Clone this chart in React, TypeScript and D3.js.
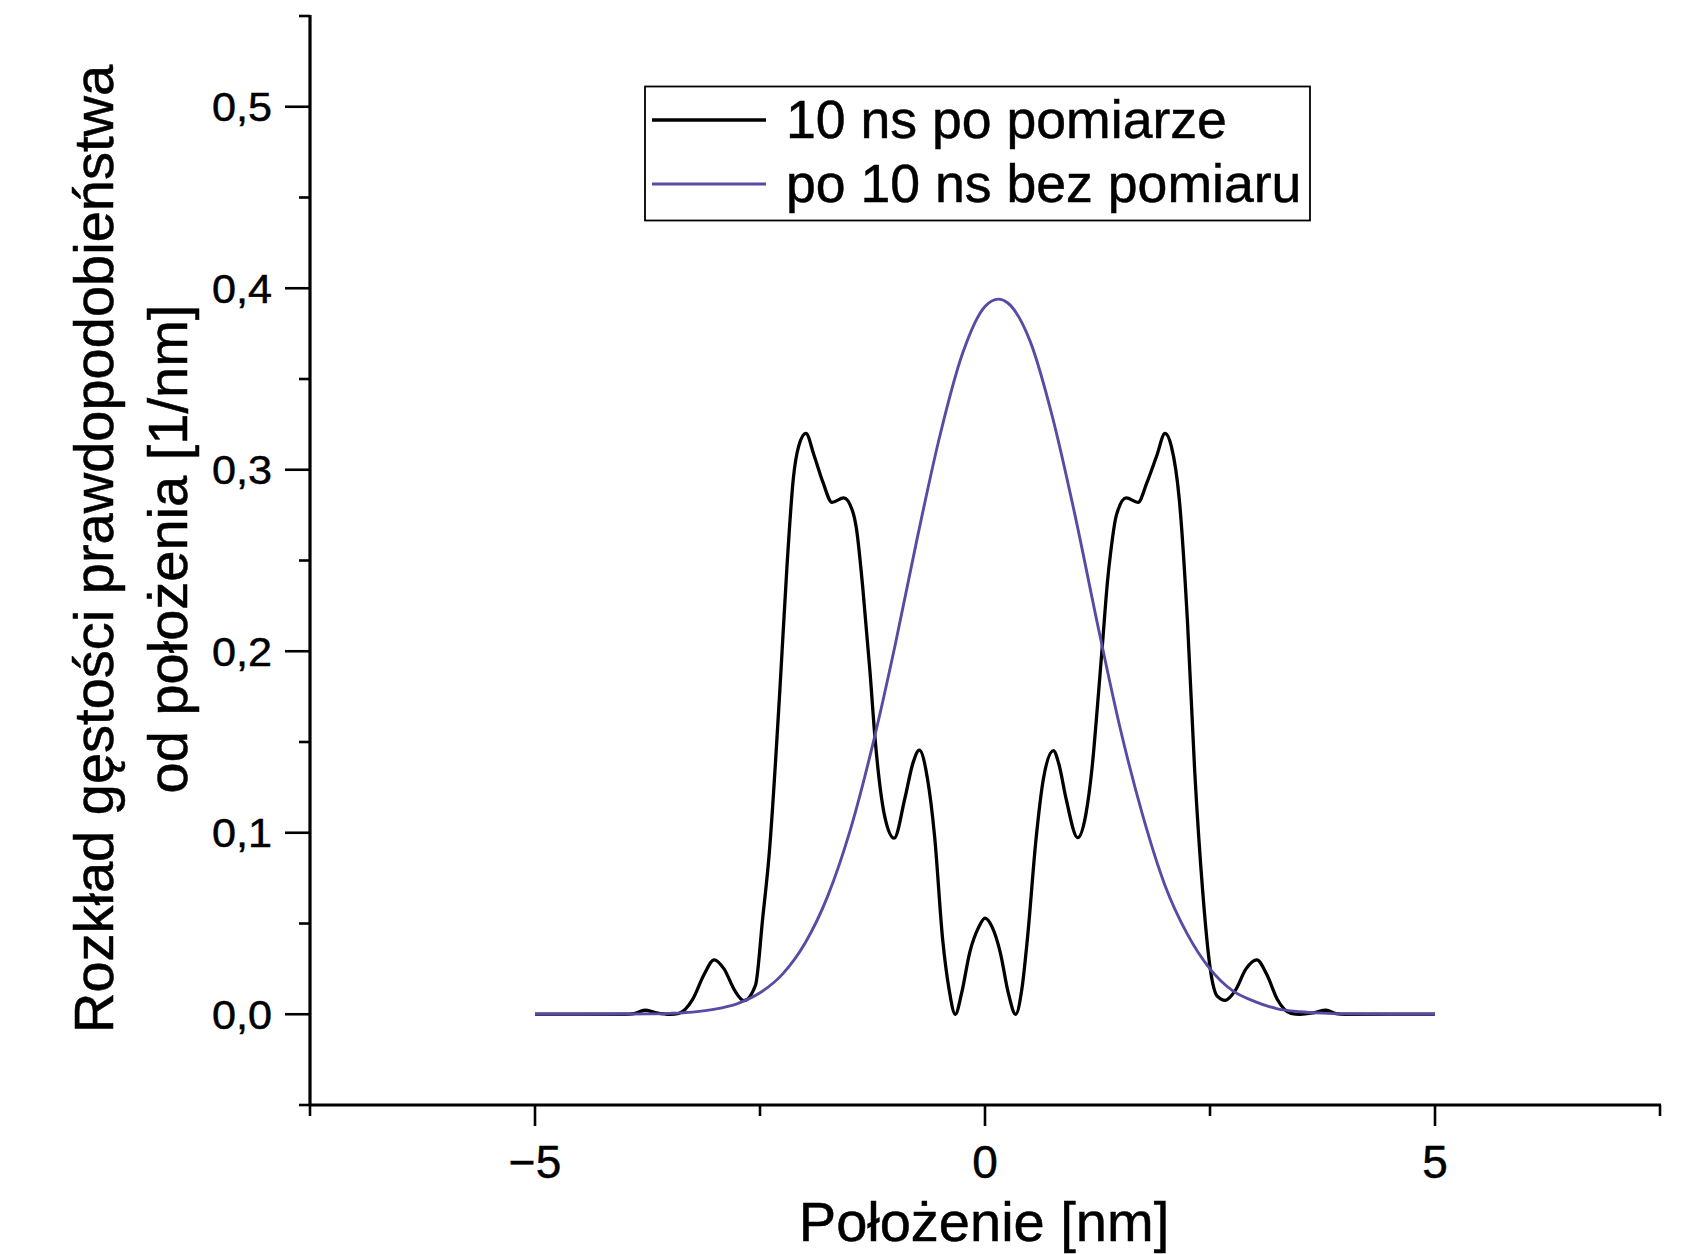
import React from "react";
import * as d3 from "d3";

// ---- data ----
const measuredX = [-5, -4, -3.9, -3.78, -3.65, -3.5, -3.4, -3.25, -3.12, -3.01, -2.9, -2.78, -2.68, -2.55, -2.47, -2.4, -2.28, -2.2, -2.13, -2.07, -1.99, -1.9, -1.8, -1.7, -1.57, -1.47, -1.43, -1.36, -1.28, -1.22, -1.11, -1.01, -0.89, -0.8, -0.73, -0.64, -0.56, -0.47, -0.4, -0.33, -0.26, -0.17, -0.07, 0, 0.08, 0.17, 0.26, 0.34, 0.41, 0.47, 0.57, 0.65, 0.76, 0.82, 0.9, 1.03, 1.12, 1.19, 1.25, 1.31, 1.36, 1.4, 1.46, 1.57, 1.7, 1.8, 1.91, 2.0, 2.07, 2.16, 2.25, 2.33, 2.42, 2.5, 2.58, 2.67, 2.78, 2.9, 3.02, 3.13, 3.25, 3.4, 3.5, 3.65, 3.79, 3.9, 4, 5];
const measuredY = [0, 0, 0.0004, 0.0022, 0.0008, 0, 0.0005, 0.008, 0.022, 0.03, 0.025, 0.013, 0.0075, 0.016, 0.053, 0.087, 0.178, 0.247, 0.295, 0.313, 0.32, 0.308, 0.293, 0.282, 0.2845, 0.277, 0.268, 0.236, 0.19, 0.151, 0.108, 0.097, 0.119, 0.1385, 0.1455, 0.13, 0.098, 0.041, 0.014, 0, 0.0116, 0.034, 0.048, 0.053, 0.048, 0.034, 0.0115, 0, 0.014, 0.041, 0.098, 0.13, 0.1453, 0.138, 0.119, 0.0973, 0.11, 0.136, 0.17, 0.207, 0.238, 0.256, 0.275, 0.2845, 0.282, 0.293, 0.308, 0.32, 0.313, 0.283, 0.216, 0.134, 0.067, 0.026, 0.01, 0.0077, 0.013, 0.025, 0.03, 0.022, 0.008, 0.0005, 0, 0.0008, 0.0022, 0.0004, 0, 0];

const freeX = [-5, -4.5, -4, -3.75, -3.5, -3.25, -3, -2.75, -2.5, -2.25, -2, -1.75, -1.5, -1.25, -1, -0.75, -0.5, -0.25, 0, 0.15, 0.25, 0.5, 0.75, 1, 1.25, 1.5, 1.75, 2, 2.25, 2.5, 2.75, 3, 3.25, 3.5, 3.75, 4, 4.5, 5];
const freeY = [0, 0, 0.0001, 0.0002, 0.0005, 0.0012, 0.0028, 0.0059, 0.0118, 0.0221, 0.0391, 0.0648, 0.101, 0.148, 0.203, 0.263, 0.319, 0.364, 0.39, 0.394, 0.392, 0.371, 0.329, 0.275, 0.215, 0.158, 0.11, 0.071, 0.044, 0.025, 0.013, 0.007, 0.003, 0.0014, 0.0006, 0.0002, 0, 0];

const seriesNames = ["10 ns po pomiarze", "po 10 ns bez pomiaru"];
const xMajorTicks = [-5, 0, 5];
const xMinorTicks = [-7.5, -2.5, 2.5, 7.5];
const yMajorTicks = [0, 0.1, 0.2, 0.3, 0.4, 0.5];
const yMinorTicks = [-0.05, 0.05, 0.15, 0.25, 0.35, 0.45, 0.55];
const xTitle = "Położenie [nm]";
const yTitle1 = "Rozkład gęstości prawdopodobieństwa";
const yTitle2 = "od położenia [1/nm]";

const W = 1693;
const H = 1254;
const FONT = "'Liberation Sans', Arial, sans-serif";
const PURPLE = "#564ca3";

export default function App() {
  const x = d3.scaleLinear().domain([-7.5, 7.5]).range([310, 1660]);
  const y = d3.scaleLinear().domain([-0.05, 0.55]).range([1105, 16]);

  const line = d3
    .line<[number, number]>()
    .x((d) => x(d[0]))
    .y((d) => y(d[1]))
    .curve(d3.curveMonotoneX);

  const black = measuredX.map((v, i) => [v, measuredY[i]] as [number, number]);
  const purple = freeX.map((v, i) => [v, freeY[i]] as [number, number]);

  const fmtY = (v: number) => d3.format(".1f")(v).replace(".", ",");
  const fmtX = d3.format("d");

  const axisW = 3.2;
  const tickW = 2.6;
  const yMajor = 25;
  const xMajor = 21;
  const minor = 11;
  const textStroke = { stroke: "#000", strokeWidth: 0.5 };

  return (
    <svg
      width={W}
      height={H}
      style={{ position: "absolute", left: 0, top: 0, background: "#fff" }}
      fontFamily={FONT}
    >
      <rect x={0} y={0} width={W} height={H} fill="#fff" />

      {/* curves */}
      <path d={line(black) || ""} fill="none" stroke="#000" strokeWidth={3.3} strokeLinejoin="round" />
      <path d={line(purple) || ""} fill="none" stroke={PURPLE} strokeWidth={2.9} strokeLinejoin="round" />

      {/* y axis */}
      <line x1={x(-7.5)} x2={x(-7.5)} y1={y(0.55) - 1} y2={y(-0.05) + 1} stroke="#000" strokeWidth={axisW} />
      {yMajorTicks.map((t) => (
        <g key={"ym" + t}>
          <line x1={x(-7.5) - yMajor} x2={x(-7.5)} y1={y(t)} y2={y(t)} stroke="#000" strokeWidth={tickW} />
          <text
            x={272}
            y={y(t)}
            dy="0.36em"
            textAnchor="end"
            fontSize={40}
            textLength={60}
            lengthAdjust="spacingAndGlyphs"
            fill="#000"
            {...textStroke}
          >
            {fmtY(t)}
          </text>
        </g>
      ))}
      {yMinorTicks.map((t) => (
        <line key={"yn" + t} x1={x(-7.5) - minor} x2={x(-7.5)} y1={y(t)} y2={y(t)} stroke="#000" strokeWidth={tickW} />
      ))}

      {/* x axis */}
      <line x1={x(-7.5) - 1} x2={x(7.5) + 1} y1={y(-0.05)} y2={y(-0.05)} stroke="#000" strokeWidth={axisW} />
      {xMajorTicks.map((t) => (
        <g key={"xm" + t}>
          <line x1={x(t)} x2={x(t)} y1={y(-0.05)} y2={y(-0.05) + xMajor} stroke="#000" strokeWidth={tickW} />
          <text x={x(t)} y={1178} textAnchor="middle" fontSize={46} fill="#000" {...textStroke}>
            {fmtX(t)}
          </text>
        </g>
      ))}
      {xMinorTicks.map((t) => (
        <line key={"xn" + t} x1={x(t)} x2={x(t)} y1={y(-0.05)} y2={y(-0.05) + minor} stroke="#000" strokeWidth={tickW} />
      ))}

      {/* axis titles */}
      <text x={984} y={1241} textAnchor="middle" fontSize={56} fill="#000" {...textStroke}>
        {xTitle}
      </text>
      <g transform="translate(113,549) rotate(-90)">
        <text x={0} y={0} textAnchor="middle" fontSize={56} fill="#000" {...textStroke}>
          {yTitle1}
        </text>
      </g>
      <g transform="translate(187,549) rotate(-90)">
        <text x={0} y={0} textAnchor="middle" fontSize={56} fill="#000" {...textStroke}>
          {yTitle2}
        </text>
      </g>

      {/* legend */}
      <rect x={645} y={86.5} width={665} height={134} fill="#fff" stroke="#000" strokeWidth={1.8} />
      {seriesNames.map((name, i) => (
        <g key={name}>
          <line
            x1={652}
            x2={766}
            y1={120 + i * 64}
            y2={120 + i * 64}
            stroke={i === 0 ? "#000" : PURPLE}
            strokeWidth={i === 0 ? 3.3 : 2.9}
          />
          <text x={786} y={138 + i * 64} fontSize={53.6} fill="#000" {...textStroke}>
            {name}
          </text>
        </g>
      ))}
    </svg>
  );
}
